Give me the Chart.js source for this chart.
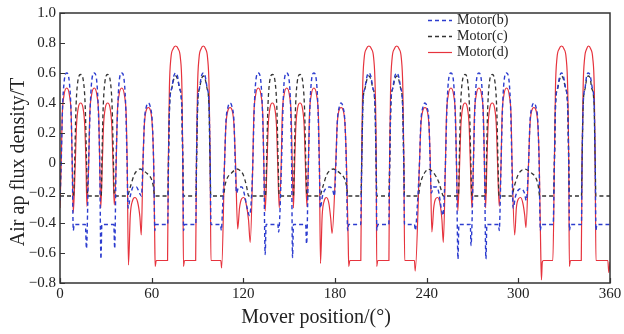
<!DOCTYPE html>
<html>
<head>
<meta charset="utf-8">
<title>Air gap flux density</title>
<script src="https://cdn.jsdelivr.net/npm/chart.js@4.4.1/dist/chart.umd.min.js"></script>
<style>
  html, body { margin: 0; padding: 0; background: #fff; }
  #wrap { width: 624px; height: 334px; }
</style>
</head>
<body>
<div id="wrap"><canvas id="chartFlux" width="624" height="334"></canvas></div>
<script>
// values: [mover position (deg), flux density (T)]
var seriesLabels = ["Motor(b)", "Motor(c)", "Motor(d)"];
var xTickValues = [0, 60, 120, 180, 240, 300, 360];
var yTickValues = [-0.8, -0.6, -0.4, -0.2, 0, 0.2, 0.4, 0.6, 0.8, 1.0];

var motorB = [
  [0, -0.25], [0.8, 0.0], [1.6, 0.35], [2.7, 0.54], [4.4, 0.6], [6.1, 0.54], [7.2, 0.35], [8.0, 0.0],
  [8.7, -0.45], [9.3, -0.41], [16.6, -0.41], [17.3, -0.57],
  [18.7, 0.0], [19.7, 0.35], [20.7, 0.54], [22.4, 0.6], [24.1, 0.54], [25.1, 0.35], [26.0, 0.0],
  [26.8, -0.64], [27.4, -0.41], [35.2, -0.41], [35.8, -0.57],
  [36.7, 0.0], [37.7, 0.35], [38.7, 0.54], [40.4, 0.6], [42.1, 0.54], [43.1, 0.35], [43.9, 0.0],
  [44.6, -0.3], [46.0, -0.22], [48.0, -0.16], [50.0, -0.16], [52.0, -0.2], [53.3, -0.22],
  [54.3, 0.0], [55.2, 0.27], [56.4, 0.37], [57.8, 0.4], [59.2, 0.37], [60.4, 0.27], [61.3, 0.0],
  [62.1, -0.45], [62.6, -0.41], [70.5, -0.41],
  [71.0, 0.0], [71.8, 0.4], [73.2, 0.5], [74.5, 0.58], [75.7, 0.6], [76.9, 0.58], [78.2, 0.5], [79.6, 0.4], [80.4, 0.0],
  [80.9, -0.45], [81.5, -0.41], [88.9, -0.41],
  [89.3, 0.0], [90.1, 0.4], [91.3, 0.5], [92.6, 0.58], [93.8, 0.6], [95.0, 0.58], [96.3, 0.5], [97.5, 0.4], [98.3, 0.0],
  [98.8, -0.41], [105.0, -0.41], [105.6, -0.45], [106.4, -0.3],
  [107.7, 0.0], [108.6, 0.27], [109.9, 0.37], [111.3, 0.4], [112.7, 0.37], [113.9, 0.27], [114.7, 0.0],
  [115.5, -0.2], [117.0, -0.16], [119.0, -0.16], [120.5, -0.2], [122.5, -0.3], [124.0, -0.35], [125.5, -0.2],
  [126.2, 0.0], [127.1, 0.35], [128.1, 0.54], [129.8, 0.6], [131.5, 0.54], [132.5, 0.35], [133.4, 0.0],
  [134.3, -0.61], [134.9, -0.41], [142.6, -0.41], [143.1, -0.46],
  [145.0, 0.0], [145.9, 0.35], [146.7, 0.54], [148.4, 0.6], [150.1, 0.54], [151.0, 0.35], [151.6, 0.0],
  [152.2, -0.63], [152.8, -0.41], [160.8, -0.41], [161.4, -0.54],
  [162.6, 0.0], [163.5, 0.35], [164.5, 0.54], [166.2, 0.6], [167.9, 0.54], [168.9, 0.35], [169.7, 0.0],
  [170.4, -0.3], [171.8, -0.22], [174.0, -0.17], [176.5, -0.16], [178.5, -0.18], [179.6, -0.22],
  [180.6, 0.0], [181.5, 0.27], [182.7, 0.37], [184.0, 0.4], [185.3, 0.37], [186.5, 0.27], [187.4, 0.0],
  [188.3, -0.45], [188.9, -0.41], [196.8, -0.41],
  [197.5, 0.0], [198.3, 0.4], [199.6, 0.5], [201.0, 0.58], [202.2, 0.6], [203.4, 0.58], [204.8, 0.5], [206.1, 0.4], [206.9, 0.0],
  [207.4, -0.45], [208.0, -0.41], [215.2, -0.41],
  [215.8, 0.0], [216.6, 0.4], [217.8, 0.5], [219.2, 0.58], [220.4, 0.6], [221.6, 0.58], [223.0, 0.5], [224.2, 0.4], [225.0, 0.0],
  [225.5, -0.41], [232.0, -0.41], [232.6, -0.45], [233.8, -0.3],
  [235.3, 0.0], [236.2, 0.27], [237.5, 0.37], [238.9, 0.4], [240.3, 0.37], [241.5, 0.27], [242.3, 0.0],
  [243.1, -0.2], [244.5, -0.16], [246.5, -0.16], [248.0, -0.2], [249.5, -0.3], [250.8, -0.35], [251.6, -0.2],
  [252.3, 0.0], [253.2, 0.35], [254.2, 0.54], [255.9, 0.6], [257.6, 0.54], [258.6, 0.35], [259.5, 0.0],
  [260.5, -0.64], [261.1, -0.41], [268.6, -0.41], [269.0, -0.55],
  [270.6, 0.0], [271.5, 0.35], [272.5, 0.54], [274.2, 0.6], [275.9, 0.54], [276.9, 0.35], [277.8, 0.0],
  [278.8, -0.64], [279.4, -0.41], [287.0, -0.41], [287.5, -0.45],
  [288.7, 0.0], [289.6, 0.35], [290.6, 0.54], [292.3, 0.6], [294.0, 0.54], [295.0, 0.35], [295.8, 0.0],
  [296.6, -0.3], [298.2, -0.22], [300.0, -0.18], [302.0, -0.17], [304.0, -0.2], [305.2, -0.25],
  [306.7, 0.0], [307.6, 0.27], [308.8, 0.37], [310.2, 0.4], [311.6, 0.37], [312.8, 0.27], [313.6, 0.0],
  [314.4, -0.45], [315.0, -0.41], [322.8, -0.41],
  [323.6, 0.0], [324.4, 0.4], [325.7, 0.5], [327.1, 0.58], [328.3, 0.6], [329.5, 0.58], [330.9, 0.5], [332.2, 0.4], [333.0, 0.0],
  [333.5, -0.45], [334.1, -0.41], [341.3, -0.41],
  [341.7, 0.0], [342.5, 0.4], [343.7, 0.5], [344.7, 0.58], [345.9, 0.6], [347.1, 0.58], [348.4, 0.5], [349.6, 0.4], [350.3, 0.0],
  [350.8, -0.45], [351.4, -0.41], [360, -0.41]
];

var motorC = [
  [0, -0.22], [8.8, -0.22],
  [9.6, 0.0], [10.4, 0.35], [11.6, 0.54], [13.5, 0.59], [15.4, 0.54], [16.6, 0.35], [17.4, 0.0], [18.1, -0.22],
  [27.0, -0.22],
  [27.4, 0.0], [28.2, 0.35], [29.4, 0.54], [31.2, 0.59], [33.0, 0.54], [34.2, 0.35], [35.0, 0.0], [35.6, -0.22],
  [44.0, -0.22], [46.0, -0.16], [48.5, -0.08], [50.5, -0.05], [52.4, -0.04], [54.5, -0.05], [57.0, -0.07],
  [59.5, -0.1], [61.0, -0.15], [62.0, -0.22], [70.6, -0.22],
  [71.0, 0.0], [71.8, 0.4], [73.2, 0.5], [74.5, 0.56], [75.7, 0.58], [76.9, 0.56], [78.2, 0.5], [79.6, 0.4], [80.4, 0.0],
  [80.9, -0.22], [89.0, -0.22],
  [89.4, 0.0], [90.2, 0.4], [91.4, 0.5], [92.6, 0.56], [93.8, 0.58], [95.0, 0.56], [96.2, 0.5], [97.4, 0.4], [98.2, 0.0],
  [98.7, -0.22], [107.0, -0.22], [108.0, -0.15], [109.5, -0.1], [112.0, -0.07], [114.0, -0.05], [115.8, -0.04],
  [117.8, -0.05], [120.0, -0.08], [122.0, -0.15], [123.5, -0.22], [134.5, -0.22],
  [135.2, 0.0], [136.0, 0.35], [137.2, 0.54], [139.0, 0.59], [140.8, 0.54], [142.0, 0.35], [142.8, 0.0], [143.5, -0.22],
  [152.8, -0.22],
  [153.3, 0.0], [154.1, 0.35], [155.3, 0.54], [157.1, 0.59], [158.9, 0.54], [160.1, 0.35], [160.9, 0.0], [161.6, -0.22],
  [170.0, -0.22], [172.0, -0.16], [174.5, -0.08], [176.8, -0.05], [178.9, -0.04], [181.0, -0.05], [183.5, -0.07],
  [186.0, -0.1], [187.5, -0.15], [188.5, -0.22], [197.0, -0.22],
  [197.5, 0.0], [198.3, 0.4], [199.7, 0.5], [201.0, 0.56], [202.2, 0.58], [203.4, 0.56], [204.7, 0.5], [206.1, 0.4], [206.9, 0.0],
  [207.4, -0.22], [215.3, -0.22],
  [215.8, 0.0], [216.6, 0.4], [217.9, 0.5], [219.2, 0.56], [220.4, 0.58], [221.6, 0.56], [222.9, 0.5], [224.2, 0.4], [225.0, 0.0],
  [225.5, -0.22], [234.5, -0.22], [235.6, -0.15], [237.0, -0.1], [239.0, -0.06], [241.0, -0.04], [243.0, -0.05],
  [245.5, -0.08], [248.0, -0.13], [249.5, -0.18], [250.9, -0.22], [260.8, -0.22],
  [261.3, 0.0], [262.1, 0.35], [263.3, 0.54], [265.1, 0.59], [266.9, 0.54], [268.1, 0.35], [268.9, 0.0], [269.6, -0.22],
  [278.6, -0.22],
  [279.1, 0.0], [279.9, 0.35], [281.1, 0.54], [282.9, 0.59], [284.7, 0.54], [285.9, 0.35], [286.7, 0.0], [287.4, -0.22],
  [295.6, -0.22], [297.5, -0.15], [299.8, -0.08], [302.0, -0.05], [304.3, -0.04], [306.5, -0.05], [309.0, -0.07],
  [311.5, -0.1], [313.0, -0.15], [314.0, -0.22], [323.0, -0.22],
  [323.6, 0.0], [324.4, 0.4], [325.8, 0.5], [327.1, 0.56], [328.3, 0.58], [329.5, 0.56], [330.8, 0.5], [332.2, 0.4], [333.0, 0.0],
  [333.5, -0.22], [341.3, -0.22],
  [341.7, 0.0], [342.5, 0.4], [343.8, 0.5], [344.7, 0.56], [345.9, 0.58], [347.1, 0.56], [348.0, 0.5], [349.5, 0.4], [350.3, 0.0],
  [350.8, -0.22], [360, -0.22]
];

var motorD = [
  [0, -0.3],
  [0.8, 0.0], [1.4, 0.3], [2.6, 0.45], [4.4, 0.5], [6.2, 0.45], [7.4, 0.3], [8.0, 0.0], [8.7, -0.33],
  [10.0, 0.0], [10.8, 0.25], [12.0, 0.37], [13.5, 0.4], [15.0, 0.37], [16.2, 0.25], [17.0, 0.0], [17.6, -0.29],
  [18.8, 0.0], [19.4, 0.3], [20.6, 0.45], [22.4, 0.5], [24.2, 0.45], [25.4, 0.3], [26.0, 0.0], [26.7, -0.3],
  [27.7, 0.0], [28.5, 0.25], [29.7, 0.37], [31.2, 0.4], [32.7, 0.37], [33.9, 0.25], [34.7, 0.0], [35.5, -0.28],
  [36.8, 0.0], [37.4, 0.3], [38.6, 0.45], [40.4, 0.5], [42.2, 0.45], [43.4, 0.3], [44.0, 0.0], [44.8, -0.68],
  [46.0, -0.35], [47.5, -0.25], [49.0, -0.23], [50.8, -0.26], [52.3, -0.36], [53.2, -0.48],
  [54.3, 0.0], [55.2, 0.25], [56.4, 0.35], [57.8, 0.37], [59.2, 0.35], [60.4, 0.25], [61.3, 0.0],
  [62.0, -0.5], [62.3, -0.69], [63.0, -0.65], [70.4, -0.65],
  [70.9, 0.0], [71.6, 0.5], [72.6, 0.7], [74.0, 0.76], [75.7, 0.78], [77.4, 0.76], [78.8, 0.7], [79.8, 0.5], [80.4, 0.0],
  [80.8, -0.69], [81.5, -0.65], [88.8, -0.65],
  [89.3, 0.0], [90.0, 0.5], [91.0, 0.7], [92.3, 0.76], [93.8, 0.78], [95.3, 0.76], [96.6, 0.7], [97.6, 0.5], [98.3, 0.0],
  [98.8, -0.65], [105.3, -0.65], [105.8, -0.7],
  [107.7, 0.0], [108.6, 0.25], [109.9, 0.35], [111.3, 0.37], [112.7, 0.35], [113.9, 0.25], [114.9, 0.0],
  [116.3, -0.44], [117.5, -0.3], [118.8, -0.24], [120.2, -0.23], [121.8, -0.27], [123.4, -0.38], [124.5, -0.53],
  [126.2, 0.0], [126.8, 0.3], [128.0, 0.45], [129.8, 0.5], [131.6, 0.45], [132.8, 0.3], [133.4, 0.0], [134.3, -0.32],
  [135.5, 0.0], [136.3, 0.25], [137.5, 0.37], [139.0, 0.4], [140.5, 0.37], [141.7, 0.25], [142.5, 0.0], [143.5, -0.3],
  [144.8, 0.0], [145.4, 0.3], [146.6, 0.45], [148.4, 0.5], [150.2, 0.45], [151.4, 0.3], [152.0, 0.0], [152.8, -0.3],
  [153.6, 0.0], [154.4, 0.25], [155.6, 0.37], [157.1, 0.4], [158.6, 0.37], [159.8, 0.25], [160.6, 0.0], [161.6, -0.29],
  [162.6, 0.0], [163.2, 0.3], [164.4, 0.45], [166.2, 0.5], [168.0, 0.45], [169.2, 0.3], [169.8, 0.0], [170.5, -0.67],
  [171.6, -0.35], [173.0, -0.25], [174.4, -0.23], [176.0, -0.27], [177.2, -0.37], [178.1, -0.47],
  [180.5, 0.0], [181.4, 0.25], [182.6, 0.35], [184.0, 0.37], [185.4, 0.35], [186.6, 0.25], [187.5, 0.0],
  [188.6, -0.5], [189.0, -0.69], [189.7, -0.65], [196.9, -0.65],
  [197.4, 0.0], [198.1, 0.5], [199.1, 0.7], [200.5, 0.76], [202.2, 0.78], [203.9, 0.76], [205.3, 0.7], [206.3, 0.5], [207.0, 0.0],
  [207.3, -0.69], [208.0, -0.65], [215.3, -0.65],
  [215.7, 0.0], [216.4, 0.5], [217.4, 0.7], [218.8, 0.76], [220.4, 0.78], [222.0, 0.76], [223.4, 0.7], [224.4, 0.5], [225.1, 0.0],
  [225.6, -0.65], [232.0, -0.65], [232.5, -0.72],
  [235.3, 0.0], [236.2, 0.25], [237.5, 0.35], [238.9, 0.37], [240.3, 0.35], [241.5, 0.25], [242.4, 0.0],
  [243.4, -0.46], [244.6, -0.3], [245.8, -0.24], [247.2, -0.23], [248.7, -0.27], [250.0, -0.38], [250.9, -0.53],
  [252.3, 0.0], [252.9, 0.3], [254.1, 0.45], [255.9, 0.5], [257.7, 0.45], [258.9, 0.3], [259.5, 0.0], [260.4, -0.32],
  [261.6, 0.0], [262.4, 0.25], [263.6, 0.37], [265.1, 0.4], [266.6, 0.37], [267.8, 0.25], [268.6, 0.0], [269.6, -0.3],
  [270.6, 0.0], [271.2, 0.3], [272.4, 0.45], [274.2, 0.5], [276.0, 0.45], [277.2, 0.3], [277.8, 0.0], [278.6, -0.3],
  [279.4, 0.0], [280.2, 0.25], [281.4, 0.37], [282.9, 0.4], [284.4, 0.37], [285.6, 0.25], [286.4, 0.0], [287.5, -0.29],
  [288.7, 0.0], [289.3, 0.3], [290.5, 0.45], [292.3, 0.5], [294.1, 0.45], [295.3, 0.3], [295.9, 0.0], [297.6, -0.48],
  [298.7, -0.3], [300.0, -0.24], [301.5, -0.23], [303.0, -0.27], [304.2, -0.35], [305.0, -0.43],
  [306.7, 0.0], [307.6, 0.25], [308.8, 0.35], [310.2, 0.37], [311.6, 0.35], [312.8, 0.25], [313.7, 0.0],
  [314.6, -0.55], [315.1, -0.78], [315.7, -0.66], [316.5, -0.65], [322.6, -0.65],
  [323.6, 0.0], [324.3, 0.5], [325.3, 0.7], [326.7, 0.76], [328.3, 0.78], [329.9, 0.76], [331.3, 0.7], [332.3, 0.5], [333.0, 0.0],
  [333.4, -0.69], [334.1, -0.65], [341.2, -0.65],
  [341.7, 0.0], [342.4, 0.5], [343.4, 0.7], [344.7, 0.76], [345.9, 0.78], [347.4, 0.76], [348.7, 0.7], [349.7, 0.5], [350.3, 0.0],
  [350.8, -0.65], [358.6, -0.65], [359.2, -0.73], [360, -0.66]
];

(function () {
  "use strict";

  var serif = "'Liberation Serif', 'DejaVu Serif', serif";
  var colors = {
    b: "#2c3ccf",
    c: "#333333",
    d: "#e6333d",
    axis: "#333333",
    text: "#222222",
  };

  function toPoints(list) {
    return list.map(function (p) {
      return { x: p[0], y: p[1] };
    });
  }

  function fmtY(v) {
    if (Math.abs(v) < 1e-9) return "0";
    return (v < 0 ? "\u2212" : "") + Math.abs(v).toFixed(1);
  }

  // box, inward ticks, legend and axis titles
  var decorations = {
    id: "decorations",
    afterDraw: function (chart) {
      var ctx = chart.ctx;
      var a = chart.chartArea;
      var xs = chart.scales.x;
      var ys = chart.scales.y;
      ctx.save();

      ctx.strokeStyle = colors.axis;
      ctx.lineWidth = 1.5;
      ctx.strokeRect(a.left, a.top, a.right - a.left, a.bottom - a.top);

      ctx.lineWidth = 1.2;
      ctx.beginPath();
      ys.ticks.forEach(function (t) {
        var y = Math.round(ys.getPixelForValue(t.value)) + 0.5;
        ctx.moveTo(a.left, y);
        ctx.lineTo(a.left + 5, y);
      });
      xs.ticks.forEach(function (t) {
        var x = Math.round(xs.getPixelForValue(t.value)) + 0.5;
        ctx.moveTo(x, a.bottom);
        ctx.lineTo(x, a.bottom - 5);
      });
      ctx.stroke();

      // legend
      ctx.font = "14px " + serif;
      ctx.textBaseline = "middle";
      ctx.textAlign = "left";
      chart.data.datasets.forEach(function (ds, i) {
        var y = 20.5 + i * 16;
        ctx.strokeStyle = ds.borderColor;
        ctx.lineWidth = ds.borderWidth;
        ctx.setLineDash(ds.borderDash || []);
        ctx.beginPath();
        ctx.moveTo(428, y);
        ctx.lineTo(452, y);
        ctx.stroke();
        ctx.setLineDash([]);
        ctx.fillStyle = colors.text;
        ctx.fillText(ds.label, 457, y);
      });

      // axis titles
      ctx.fillStyle = colors.text;
      ctx.font = "20px " + serif;
      ctx.textAlign = "center";
      ctx.textBaseline = "middle";
      ctx.fillText("Mover position/(\u00b0)", 316, 318);
      ctx.translate(19, 162);
      ctx.rotate(-Math.PI / 2);
      ctx.fillText("Air ap flux density/T", 0, 0);

      ctx.restore();
    },
  };

  function initFluxChart() {
    var el = document.getElementById("chartFlux");
    if (!el || typeof Chart === "undefined") return;

    new Chart(el, {
      type: "line",
      data: {
        datasets: [
          {
            label: seriesLabels[0],
            data: toPoints(motorB),
            borderColor: colors.b,
            borderWidth: 1.4,
            borderDash: [4, 3],
          },
          {
            label: seriesLabels[1],
            data: toPoints(motorC),
            borderColor: colors.c,
            borderWidth: 1.3,
            borderDash: [4, 3],
          },
          {
            label: seriesLabels[2],
            data: toPoints(motorD),
            borderColor: colors.d,
            borderWidth: 1.2,
          },
        ],
      },
      options: {
        responsive: false,
        animation: false,
        devicePixelRatio: 1,
        layout: { padding: { top: 12, right: 14, left: 0, bottom: 0 } },
        elements: {
          point: { radius: 0 },
          line: { cubicInterpolationMode: "monotone", fill: false },
        },
        plugins: {
          legend: { display: false },
          tooltip: { enabled: false },
        },
        scales: {
          x: {
            type: "linear",
            min: 0,
            max: 360,
            afterBuildTicks: function (s) {
              s.ticks = xTickValues.map(function (v) { return { value: v }; });
            },
            afterFit: function (s) { s.height = 51; },
            grid: { display: false, drawTicks: false },
            border: { display: false },
            ticks: {
              padding: 2,
              autoSkip: false,
              maxRotation: 0,
              color: colors.text,
              font: { family: serif, size: 15 },
            },
          },
          y: {
            min: -0.8,
            max: 1.0,
            afterBuildTicks: function (s) {
              s.ticks = yTickValues.map(function (v) { return { value: v }; });
            },
            afterFit: function (s) { s.width = 60; },
            grid: { display: false, drawTicks: false },
            border: { display: false },
            ticks: {
              padding: 4,
              color: colors.text,
              font: { family: serif, size: 15 },
              callback: fmtY,
            },
          },
        },
      },
      plugins: [decorations],
    });
  }

  document.addEventListener("DOMContentLoaded", initFluxChart);
})();
</script>
</body>
</html>
